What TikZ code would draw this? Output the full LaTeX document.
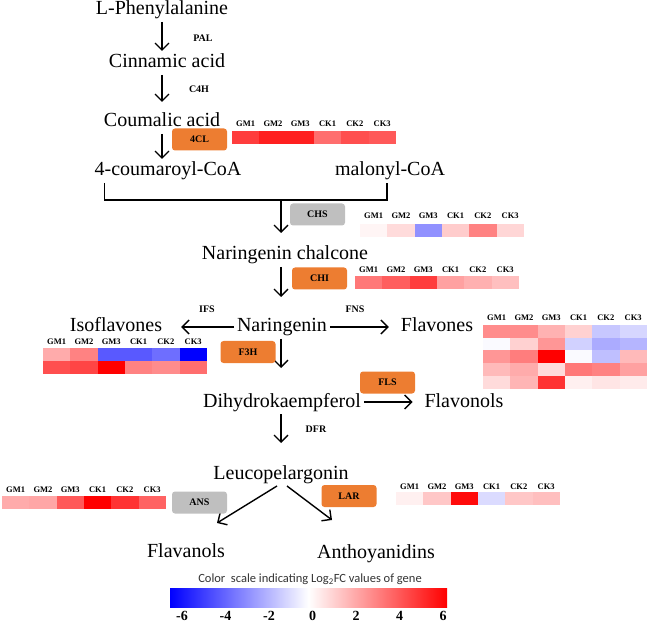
\documentclass[tikz,border=0pt]{standalone}
\usepackage{fontspec}
\setmainfont{Liberation Serif}
\newfontfamily\calibfont{Carlito}
\usepackage{tikz}
\usetikzlibrary{arrows.meta,positioning,calc}

\definecolor{boxorange}{RGB}{237,125,49}
\definecolor{boxgray}{RGB}{191,191,191}

% one row of a heat map: left x, top y, values (+ red, - blue)
\newcommand{\hmrow}[3]{%
  \foreach \v [count=\k from 0] in {#3}{
    \ifnum\v<0 \pgfmathtruncatemacro{\a}{-\v}\def\hc{blue}\else\pgfmathtruncatemacro{\a}{\v}\def\hc{red}\fi
    \fill[\hc!\a!white] (#1+\k*27.3,#2) rectangle ++(27.3,13);
  }}
% column names above a heat map: name, left x, y
\newcommand{\hmhead}[3]{%
  \foreach \c [count=\k from 0] in {GM1,GM2,GM3,CK1,CK2,CK3}
    \node[colname] (#1-\k) at (#2+13.65+\k*27.3,#3) {\c};}

\begin{document}
\begin{tikzpicture}[x=1pt,y=-1pt,
  cmpd/.style={font=\fontsize{20}{24}\selectfont, inner sep=0pt, outer sep=3pt,
               text height=14pt, text depth=4pt, anchor=base},
  enz/.style={font=\bfseries\fontsize{10}{12}\selectfont, inner sep=1pt},
  ezbox/.style={rounded corners=3pt, fill=boxorange, minimum width=55pt,
                minimum height=22pt, inner sep=0pt,
                font=\bfseries\fontsize{10}{12}\selectfont},
  colname/.style={font=\bfseries\fontsize{8.5}{10}\selectfont, inner sep=0pt},
  flow/.style={-{Straight Barb[length=7pt,width=14pt]}, line width=1.4pt},
  link/.style={line width=1.4pt},
  tick_label/.style={font=\bfseries\fontsize{14}{16}\selectfont, inner sep=0pt}
]
\useasboundingbox (0,0) rectangle (649,623);

% Compounds
\node[cmpd] (phe) at (162,15)  {L-Phenylalanine};
\node[cmpd] (cin) at (167,68)  {Cinnamic acid};
\node[cmpd] (cou) at (162,127) {Coumalic acid};
\node[cmpd] (coa) at (168,176) {4-coumaroyl-CoA};
\node[cmpd] (mal) at (390,176) {malonyl-CoA};
\node[cmpd] (chal) at (285,260) {Naringenin chalcone};
\node[cmpd] (nar) at (282,332) {Naringenin};
\node[cmpd] (iso) at (116,332) {Isoflavones};
\node[cmpd] (flav) at (437,332) {Flavones};
\node[cmpd] (dih) at (282,407) {Dihydrokaempferol};
\node[cmpd] (fol) at (464,407) {Flavonols};
\node[cmpd] (leu) at (281,479) {Leucopelargonin};
\node[cmpd] (fan) at (186,557) {Flavanols};
\node[cmpd] (ant) at (376,558) {Anthoyanidins};

\coordinate (axA) at (162,0);
\coordinate (axB) at (281,0);
\coordinate (merge) at (281,200);

% Reactions
\draw[flow] (phe.south -| axA) -- (cin.north -| axA);
\draw[flow, shorten >=8pt] (cin.south -| axA) -- (cou.north -| axA);
\draw[flow] (cou.south -| axA) -- (coa.north -| axA);
\draw[link] ([xshift=13pt]coa.south west) |- (merge) -| ([xshift=-3pt]mal.south);
\draw[flow, shorten >=10pt] (merge) -- (chal.north -| axB);
\draw[flow, shorten >=18pt] (chal.south -| axB) -- (nar.north -| axB);
\draw[flow, shorten >=16pt] (nar.west) -- (iso.east);
\draw[flow, shorten >=9pt] (nar.east) -- (flav.west);
\draw[flow, shorten >=22pt] (nar.south -| axB) -- (dih.north -| axB);
\draw[flow, shorten >=9pt] (dih.east) -- (fol.west);
\draw[flow, shorten >=19pt] (dih.south -| axB) -- (leu.north -| axB);
\draw[flow] ([xshift=-4pt]leu.south) -- ([xshift=31pt,yshift=17pt]fan.north);
\draw[flow] ([xshift=6pt]leu.south) -- ([xshift=-44pt,yshift=21pt]ant.north);

% Enzymes
\node[enz] (pal) at (203,38)  {PAL};
\node[enz] (c4h) at (199,89)  {C4H};
\node[enz] (ifs) at (207,309) {IFS};
\node[enz] (fns) at (355,309) {FNS};
\node[enz] (dfr) at (316,429) {DFR};

\node[ezbox] (b4cl) at (199.5,139.5) {4CL};
\node[ezbox, fill=boxgray] (bchs) at (317.5,214.5) {CHS};
\node[ezbox] (bchi) at (319.5,278.5) {CHI};
\node[ezbox] (bf3h) at (248,352) {F3H};
\node[ezbox] (bfls) at (387.5,382.5) {FLS};
\node[ezbox, fill=boxgray] (bans) at (199.5,502.5) {ANS};
\node[ezbox] (blar) at (349,496) {LAR};

% Heat maps
\hmhead{h4cl}{232}{124}
\hmrow{232}{131}{76,88,88,57,69,65}

\hmhead{hchs}{360}{216}
\hmrow{360}{224}{4,14,-43,20,49,16}

\hmhead{hchi}{355}{270}
\hmrow{355}{276}{53,63,76,37,31,25}

\hmhead{hiso}{43}{342}
\hmrow{43}{348}{33,49,-65,-65,-57,-100}
\hmrow{43}{361}{69,73,100,49,45,57}

\hmhead{hfla}{483}{318}
\hmrow{483}{325}{45,45,30,18,-22,-16}
\hmrow{483}{337.7}{-2,18,41,-18,-33,-29}
\hmrow{483}{350.4}{41,51,100,-2,-25,27}
\hmrow{483}{363.1}{27,33,14,53,49,37}
\hmrow{483}{375.8}{14,29,80,6,10,8}

\hmhead{hans}{2}{490}
\hmrow{2}{496}{33,35,65,100,80,61}

\hmhead{hlar}{396}{487}
\hmrow{396}{492}{6,22,96,-14,22,25}

% Colour scale
\node[font=\calibfont\fontsize{12.5}{14}\selectfont, text=black!80] (cbtitle) at (310,579)
  {Color\ \ scale indicating Log\textsubscript{2}FC values of gene};
\shade[left color=blue, right color=red, middle color=white] (170,588) rectangle (447,607);
\foreach \tv [count=\k from 0] in {-6,-4,-2,0,2,4,6}
  \node[tick_label] (tk\k) at (182+\k*43.5,616) {\tv};

\end{tikzpicture}
\end{document}
